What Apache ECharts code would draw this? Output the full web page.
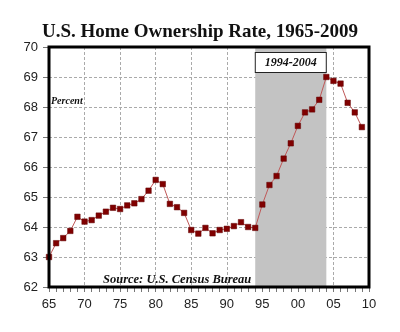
<!DOCTYPE html>
<html><head><meta charset="utf-8">
<script src="https://cdn.jsdelivr.net/npm/echarts@6/dist/echarts.min.js"></script>
<style>html,body{margin:0;padding:0;background:#fff}#c{width:400px;height:332px}</style>
</head><body><div id="c"></div>
<script>
const years = [1965,1966,1967,1968,1969,1970,1971,1972,1973,1974,1975,1976,1977,1978,1979,1980,1981,1982,1983,1984,1985,1986,1987,1988,1989,1990,1991,1992,1993,1994,1995,1996,1997,1998,1999,2000,2001,2002,2003,2004,2005,2006,2007,2008,2009];
const rates = [63.0,63.46,63.63,63.87,64.34,64.18,64.23,64.38,64.51,64.64,64.6,64.72,64.79,64.93,65.21,65.57,65.43,64.77,64.66,64.47,63.9,63.78,63.97,63.79,63.9,63.94,64.03,64.16,64.0,63.97,64.75,65.4,65.7,66.28,66.79,67.37,67.82,67.92,68.24,69.0,68.87,68.78,68.14,67.82,67.33];
const shadeRange = [1994, 2004];
const shadeLabel = '1994-2004';
const titleText = 'U.S. Home Ownership Rate, 1965-2009';
const unitText = 'Percent';
const sourceText = 'Source: U.S. Census Bureau';

const chart = echarts.init(document.getElementById('c'));
chart.setOption({
  animation: false,
  backgroundColor: '#fff',
  title: {
    text: titleText, left: 'center', top: 18,
    textStyle: {fontFamily: 'Liberation Serif', fontWeight: 'bold', fontSize: 19, color: '#111'}
  },
  grid: {left: 49, right: 31, top: 47, bottom: 45, show: true, borderColor: '#000', borderWidth: 3, backgroundColor: 'transparent', z: 10},
  xAxis: {
    type: 'value', min: 1965, max: 2010, interval: 5,
    axisLine: {show: false},
    axisTick: {show: true, length: 5, lineStyle: {color: '#777'}},
    minorTick: {show: true, splitNumber: 5, length: 5, lineStyle: {color: '#777'}},
    axisLabel: {margin: 11, fontFamily: 'Liberation Sans', fontSize: 13, color: '#222', formatter: v => String(v).slice(2)},
    splitLine: {show: true, lineStyle: {color: '#aaa', type: [3, 2], width: 1}}
  },
  yAxis: {
    type: 'value', min: 62, max: 70, interval: 1,
    axisLine: {show: false},
    axisTick: {show: true, length: 6, lineStyle: {color: '#777'}},
    axisLabel: {margin: 11, fontFamily: 'Liberation Sans', fontSize: 13, color: '#222'},
    splitLine: {show: true, lineStyle: {color: '#aaa', type: [3, 2], width: 1}}
  },
  graphic: [
    {type: 'text', left: 51, top: 96, z: 20, style: {text: unitText, font: 'italic bold 10px "Liberation Serif"', fill: '#111'}},
    {type: 'text', left: 103, top: 273, z: 20, style: {text: sourceText, font: 'italic bold 12.5px "Liberation Serif"', fill: '#111'}}
  ],
  series: [{
    type: 'line',
    data: years.map((y, i) => [y, rates[i]]),
    symbol: 'rect', symbolSize: 5.5,
    itemStyle: {color: '#800000', borderColor: '#600000', borderWidth: 0.5},
    lineStyle: {color: '#c05858', width: 1},
    z: 5,
    markArea: {
      silent: true,
      itemStyle: {color: '#c3c3c3'},
      label: {
        show: true, position: 'insideTop', distance: 6,
        formatter: shadeLabel,
        fontFamily: 'Liberation Serif', fontStyle: 'italic', fontWeight: 'bold', fontSize: 12, color: '#111',
        backgroundColor: '#fff', borderColor: '#222', borderWidth: 1, padding: [4, 9, 3, 9]
      },
      data: [[{xAxis: shadeRange[0]}, {xAxis: shadeRange[1]}]]
    }
  }]
});
</script></body></html>
